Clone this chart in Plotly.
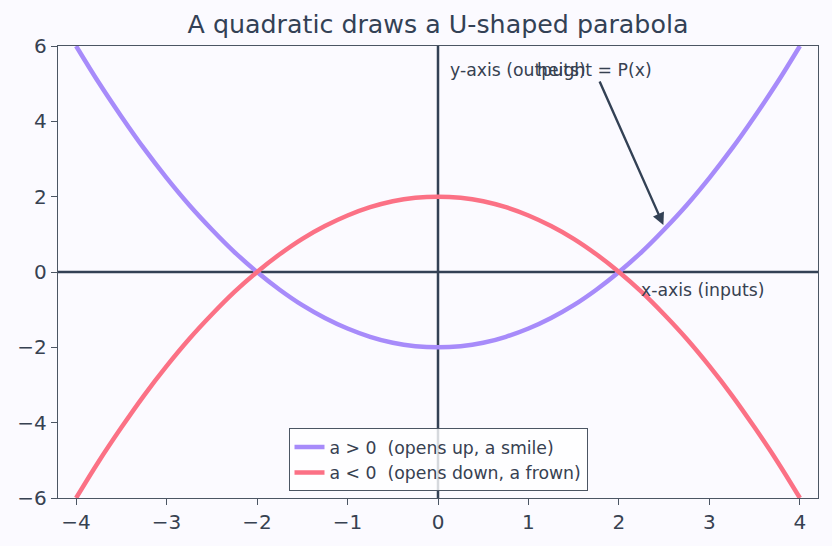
import plotly.graph_objects as go

x_vals = [-4, -3.75, -3.5, -3.25, -3, -2.75, -2.5, -2.25, -2, -1.75, -1.5, -1.25, -1,
          -0.75, -0.5, -0.25, 0, 0.25, 0.5, 0.75, 1, 1.25, 1.5, 1.75, 2, 2.25, 2.5,
          2.75, 3, 3.25, 3.5, 3.75, 4]
y_up = [6, 5.03, 4.13, 3.28, 2.5, 1.78, 1.13, 0.53, 0, -0.47, -0.88, -1.22, -1.5,
        -1.72, -1.88, -1.97, -2, -1.97, -1.88, -1.72, -1.5, -1.22, -0.88, -0.47, 0,
        0.53, 1.13, 1.78, 2.5, 3.28, 4.13, 5.03, 6]
y_down = [-6, -5.03, -4.13, -3.28, -2.5, -1.78, -1.13, -0.53, 0, 0.47, 0.88, 1.22, 1.5,
          1.72, 1.88, 1.97, 2, 1.97, 1.88, 1.72, 1.5, 1.22, 0.88, 0.47, 0,
          -0.53, -1.13, -1.78, -2.5, -3.28, -4.13, -5.03, -6]
x_ticks = [-4, -3, -2, -1, 0, 1, 2, 3, 4]
y_ticks = [-6, -4, -2, 0, 2, 4, 6]

FONT = "DejaVu Sans"
TXT = "#374151"
DARK = "#334155"

fig = go.Figure()
fig.add_trace(go.Scatter(x=x_vals, y=y_up, mode="lines", line_shape="spline",
                         line=dict(color="#a78bfa", width=4.5),
                         name="a > 0  (opens up, a smile)"))
fig.add_trace(go.Scatter(x=x_vals, y=y_down, mode="lines", line_shape="spline",
                         line=dict(color="#fb7185", width=4.5),
                         name="a < 0  (opens down, a frown)"))

fig.add_shape(type="line", x0=-4.2, x1=4.2, y0=0, y1=0, line=dict(color=DARK, width=2.5), layer="below")
fig.add_shape(type="line", x0=0, x1=0, y0=-6, y1=6, line=dict(color=DARK, width=2.5), layer="below")

fig.add_annotation(x=0.11, y=5.36, text="y-axis (outputs)", showarrow=False,
                   xanchor="left", yanchor="middle", font=dict(size=17.3, color=TXT, family=FONT))
fig.add_annotation(x=2.22, y=-0.47, text="x-axis (inputs)", showarrow=False,
                   xanchor="left", yanchor="middle", font=dict(size=17.3, color=TXT, family=FONT))
fig.add_annotation(x=2.5, y=1.2, ax=1.73, ay=5.36, axref="x", ayref="y",
                   text="height = P(x)", showarrow=True, arrowhead=2, arrowsize=1,
                   arrowwidth=2.4, arrowcolor=DARK, standoff=2,
                   font=dict(size=17.3, color=TXT, family=FONT))

axis_common = dict(showline=True, linecolor="#4b5563", linewidth=1.3, mirror=True,
                   ticks="outside", ticklen=6, tickcolor="#4b5563", showgrid=False,
                   zeroline=False, tickfont=dict(size=20, color=TXT, family=FONT))
fig.update_xaxes(range=[-4.2, 4.2], tickvals=x_ticks, **axis_common)
fig.update_yaxes(range=[-6, 6], tickvals=y_ticks, **axis_common)

fig.update_layout(
    width=832, height=546,
    margin=dict(l=58, r=14, t=46, b=48),
    paper_bgcolor="#fbfaff", plot_bgcolor="#fbfaff",
    title=dict(text="A quadratic draws a U-shaped parabola", x=0.5, xref="paper", xanchor="center",
               y=0.956, yanchor="middle", font=dict(size=25.3, color=DARK, family=FONT)),
    font=dict(family=FONT, color=TXT),
    legend=dict(x=0.5, xanchor="center", y=0.015, yanchor="bottom",
                bgcolor="rgba(255,255,255,0.8)", bordercolor="#4b5563", borderwidth=1,
                font=dict(size=17.3, color=TXT, family=FONT), tracegroupgap=0),
)

fig.write_html("out.html")
